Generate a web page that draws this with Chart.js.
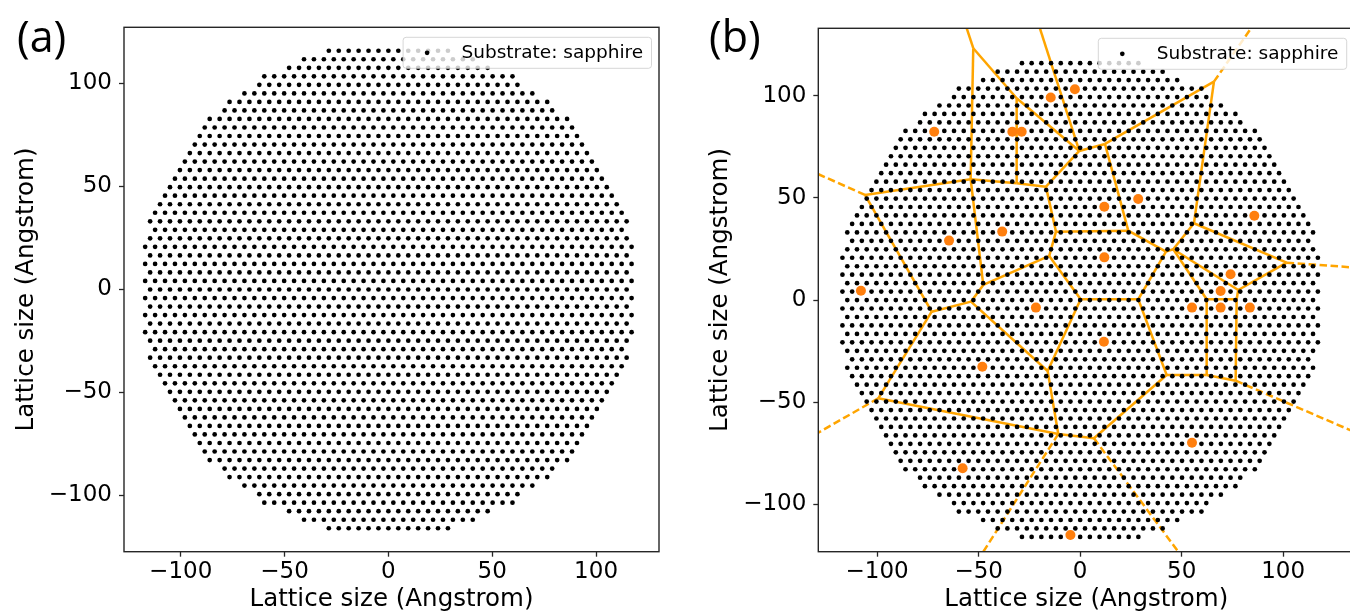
<!DOCTYPE html>
<html>
<head>
<meta charset="utf-8">
<script src="https://cdn.jsdelivr.net/npm/chart.js@4.4.1/dist/chart.umd.min.js"></script>
<style>
html,body{margin:0;padding:0;background:#fff;overflow:hidden;width:1350px;height:614px;}
#wrap{position:relative;width:1350px;height:614px;overflow:hidden;}
canvas{position:absolute;top:0;}
#ca{left:0;}
#cb{left:694px;}
.plabel{position:absolute;font-family:'Open Sans',sans-serif;font-size:43px;line-height:1;color:#000;white-space:nowrap;}
</style>
</head>
<body>
<div id="wrap">
<canvas id="ca" width="680" height="614"></canvas>
<canvas id="cb" width="706" height="614"></canvas>
<div class="plabel" style="left:17px;top:14px">(a)</div>
<div class="plabel" style="left:709px;top:14px">(b)</div>
</div>
<script>
// ---------------- data ----------------
const AXIS_TITLE = 'Lattice size (Angstrom)';
const LEGEND_LABEL = 'Substrate: sapphire';
const X_TICKS = [-100, -50, 0, 50, 100];
const Y_TICKS = [-100, -50, 0, 50, 100];

// substrate lattice: spacing along a row, spacing between rows (Å)
const LATTICE_A = 4.78;
const ROW_PITCH = 4.14;
// number of sites in each row, from the centre row (y = 0) outwards; rows are mirrored above/below
const ROW_DOT_COUNTS = [49, 50, 49, 50, 49, 50, 49, 48, 49, 48, 47, 46, 45, 44, 43, 42, 41, 40, 39, 38, 37, 34, 33, 30, 27, 26, 21, 18, 13];

// orange seed points of panel (b)
const SEED_X = [-2.6, -14.5, -71.9, -33.4, -28.8, -38.4, -64.6, -108.0, 28.6, 11.9, 85.8, 11.9, 74.1, 69.2, -21.8, -48.2, -57.9, -4.8, 55.1, 69.2, 83.6, 11.7, 55.1];
const SEED_Y = [103.2, 99.1, 82.4, 82.4, 82.4, 33.5, 29.1, 4.6, 49.5, 45.7, 41.3, 20.9, 12.6, 4.4, -3.7, -32.6, -82.3, -115.0, -3.7, -3.7, -3.7, -20.4, -69.8];

// Voronoi vertices (last two lie above the visible area)
const VERTEX_X = [-52.66, -53.94, -31.28, -0.44, -31.28, -16.85, -106.01, -47.73, -11.92, -15.22, 65.91, 12.22, 56.06, 23.69, 42.27, 45.86, 101.72, 77.88, -73.15, -53.79, -99.46, -10.79, -16.01, 0.25, 28.62, 42.61, 62.32, 76.60, 62.32, 77.09, 6.80, -58.2, -22.1];
const VERTEX_Y = [123.25, 59.13, 98.78, 72.98, 57.17, 55.51, 51.44, 7.39, 33.48, 21.59, 106.9, 76.41, 37.59, 33.97, 23.69, 24.87, 18.31, 4.94, -5.68, -0.78, -48.07, -65.54, -34.70, 0.39, 0.39, -36.66, -36.66, -39.45, 0.39, 0.39, -67.65, 140, 140];

// finite ridges (solid), as vertex index pairs
const SOLID_EDGES = [
  [0,1],[0,2],[2,3],[2,4],[3,5],[3,11],[4,5],[1,4],[1,6],[1,7],
  [5,8],[8,9],[8,13],[9,7],[9,23],[6,18],[18,19],[19,7],[18,20],[20,21],
  [19,22],[22,21],[22,23],[23,24],[24,14],[24,25],[14,13],[14,15],[15,12],[15,17],
  [15,28],[13,11],[11,10],[10,12],[12,16],[16,17],[17,29],[28,29],[28,26],[29,27],
  [25,26],[26,27],[25,30],[30,21],[0,31],[3,32]
];
// infinite ridges (dashed): start vertex, far end x, far end y
const RAY_START = [6, 10, 16, 27, 30, 21, 20];
const RAY_END_X = [-140, 92.6, 145, 145, 57.2, -55.3, -140];
const RAY_END_Y = [66.5, 145, 15.2, -68.8, -135, -135, -71.2];

// axis limits
const PANEL_A_X = [-127.3, 130.3];
const PANEL_A_Y = [-127.3, 127.3];
const PANEL_B_X = [-129.0, 135.0];
const PANEL_B_Y = [-123.15, 133.0];

// ---------------- build datasets ----------------
const latticePoints = [];
const nRows = ROW_DOT_COUNTS.length - 1;
for (let k = -nRows; k <= nRows; k++) {
  const n = ROW_DOT_COUNTS[Math.abs(k)];
  for (let j = 0; j < n; j++) {
    latticePoints.push({x: (j - (n - 1) / 2) * LATTICE_A, y: k * ROW_PITCH});
  }
}
const seedPoints = SEED_X.map((x, i) => ({x, y: SEED_Y[i]}));

const ORANGE_LINE = '#ffa500';
const FONT = "'DejaVu Sans', sans-serif";
const INK = '#000';
const FRAME = '#262626';

function latticeDataset() {
  return {type: 'scatter', data: latticePoints, pointRadius: 2.35, pointHoverRadius: 2.35,
    backgroundColor: '#000', borderWidth: 0, order: 1};
}

function voronoiDatasets() {
  const ds = [];
  SOLID_EDGES.forEach(([a, b]) => {
    ds.push({type: 'line', data: [{x: VERTEX_X[a], y: VERTEX_Y[a]}, {x: VERTEX_X[b], y: VERTEX_Y[b]}],
      showLine: true, pointRadius: 0, borderColor: ORANGE_LINE, borderWidth: 2.5, fill: false, tension: 0, order: 2});
  });
  RAY_START.forEach((v, i) => {
    ds.push({type: 'line', data: [{x: VERTEX_X[v], y: VERTEX_Y[v]}, {x: RAY_END_X[i], y: RAY_END_Y[i]}],
      showLine: true, pointRadius: 0, borderColor: ORANGE_LINE, borderWidth: 2.5, borderDash: [7.5, 3.5],
      fill: false, tension: 0, order: 2});
  });
  return ds;
}

const fmt = v => (v < 0 ? '\u2212' + Math.abs(v) : String(v));

const framePlugin = {
  id: 'frameAndLegend',
  afterDatasetsDraw(chart) {
    const {ctx, chartArea: ca} = chart;
    ctx.save();
    ctx.strokeStyle = FRAME;
    ctx.lineWidth = 1.4;
    ctx.strokeRect(ca.left, ca.top, ca.right - ca.left, ca.bottom - ca.top);
    // legend box (upper right, semi-transparent like matplotlib)
    const w = 248.4, h = 31;
    const x0 = ca.right - 7.5 - w, y0 = ca.top + 10;
    const r = 3;
    ctx.beginPath();
    ctx.moveTo(x0 + r, y0);
    ctx.lineTo(x0 + w - r, y0);
    ctx.arcTo(x0 + w, y0, x0 + w, y0 + r, r);
    ctx.lineTo(x0 + w, y0 + h - r);
    ctx.arcTo(x0 + w, y0 + h, x0 + w - r, y0 + h, r);
    ctx.lineTo(x0 + r, y0 + h);
    ctx.arcTo(x0, y0 + h, x0, y0 + h - r, r);
    ctx.lineTo(x0, y0 + r);
    ctx.arcTo(x0, y0, x0 + r, y0, r);
    ctx.closePath();
    ctx.fillStyle = 'rgba(255,255,255,0.8)';
    ctx.fill();
    ctx.strokeStyle = 'rgba(204,204,204,0.8)';
    ctx.lineWidth = 1;
    ctx.stroke();
    ctx.fillStyle = '#000';
    ctx.beginPath();
    ctx.arc(x0 + 24, y0 + h / 2, 2.35, 0, Math.PI * 2);
    ctx.fill();
    ctx.font = "18.5px " + FONT;
    ctx.textBaseline = 'middle';
    ctx.textAlign = 'left';
    ctx.fillText(LEGEND_LABEL, x0 + 58.4, y0 + h / 2 + 0.5);
    ctx.restore();
  }
};

function scaleOpts(range, ticks, isX, axisSize) {
  return {
    type: 'linear',
    min: range[0], max: range[1],
    afterBuildTicks: s => { s.ticks = ticks.map(v => ({value: v})); },
    afterFit: s => { if (isX) s.height = axisSize; else s.width = axisSize; },
    grid: {display: true, drawOnChartArea: false, drawTicks: true, tickLength: 5, tickWidth: 1.3, color: FRAME},
    border: {display: false},
    ticks: {autoSkip: false, maxRotation: 0, minRotation: 0, includeBounds: false,
      padding: isX ? 1.5 : 7, color: INK, font: {family: FONT, size: 23}, callback: v => fmt(v)},
    title: {display: true, text: AXIS_TITLE, color: INK, font: {family: FONT, size: 24.5},
      padding: isX ? {top: 0, bottom: 0} : {top: 12.3, bottom: 0}}
  };
}

function makeChart(id, datasets, xr, yr, pad, yAxisW) {
  return new Chart(document.getElementById(id), {
    type: 'scatter',
    data: {datasets},
    options: {
      responsive: false, animation: false, devicePixelRatio: 1, events: [],
      layout: {padding: pad},
      plugins: {legend: {display: false}, tooltip: {enabled: false}},
      scales: {
        x: scaleOpts(xr, X_TICKS, true, 62.3),
        y: scaleOpts(yr, Y_TICKS, false, yAxisW)
      }
    },
    plugins: [framePlugin]
  });
}

makeChart('ca', [latticeDataset()], PANEL_A_X, PANEL_A_Y,
  {left: 0, top: 27.3, right: 21, bottom: 0}, 124);

makeChart('cb', [
  {type: 'scatter', data: seedPoints, pointRadius: 5, pointHoverRadius: 5,
    backgroundColor: '#ff7f0e', borderWidth: 0, order: 0},
  latticeDataset(),
  ...voronoiDatasets()
], PANEL_B_X, PANEL_B_Y, {left: 0, top: 28.3, right: 45.8, bottom: 0}, 124.3);
</script>
</body>
</html>
